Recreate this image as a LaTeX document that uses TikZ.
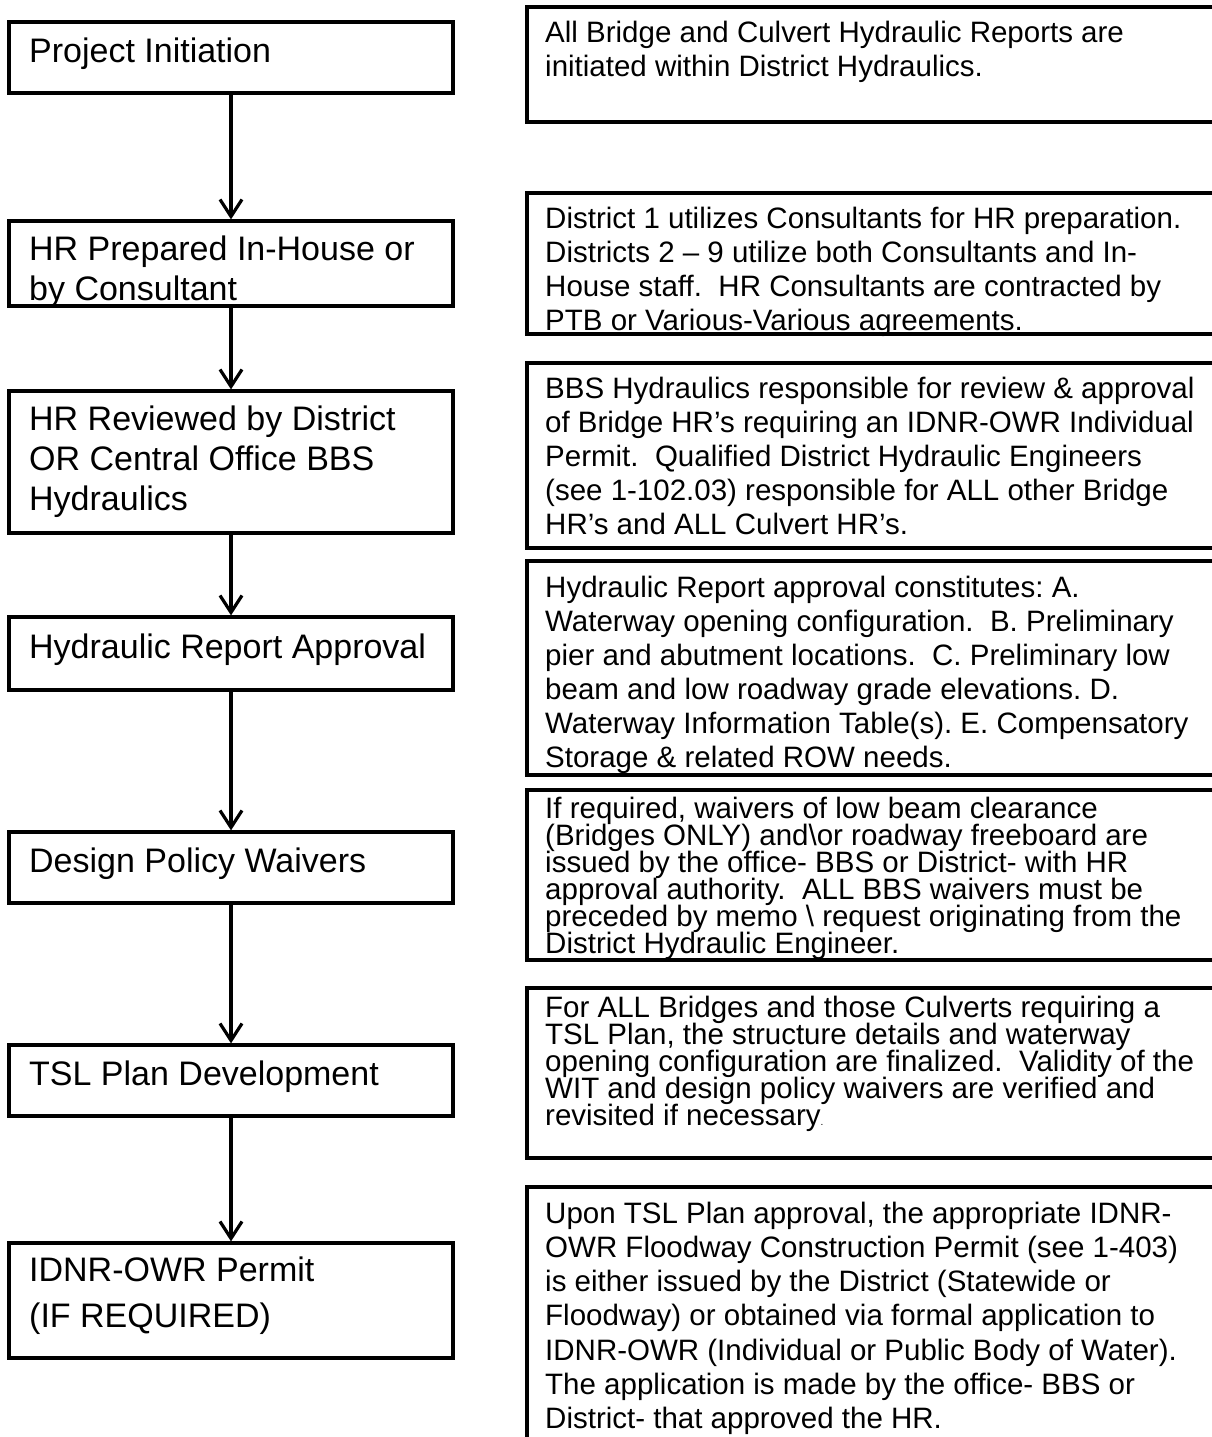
\documentclass[tikz,border=0pt]{standalone}
\usepackage{fontspec}
\setmainfont{Liberation Sans}
\usetikzlibrary{arrows.meta}
\frenchspacing
\tikzset{
  lbox/.style={draw, line width=3.2pt, minimum width=444pt, inner sep=0pt},
  rbox/.style={draw, line width=3.2pt, minimum width=703pt, inner sep=0pt},
  ltext/.style={anchor=base west, inner sep=0pt, font=\fontsize{34}{40}\selectfont},
  rtext/.style={anchor=base west, inner sep=0pt, font=\fontsize{29.5}{34}\selectfont},
  flow/.style={line width=3.2pt, -{Straight Barb[length=17pt,width=22pt]}}
}
\newcommand\txtstack[6]{% style, name, x, first baseline, step, lines
  \foreach \lineT [count=\k] in {#6} {\node[#1] (#2\k) at (#3,{#4+(\k-1)*(#5)}) {\lineT};}}
\begin{document}
\begin{tikzpicture}[x=1pt,y=-1pt]
\useasboundingbox (0,0) rectangle (1212,1437);
\fill[white] (0,0) rectangle (1212,1437);
\clip (0,0) rectangle (1212,1437);

% left column boxes
\node[lbox, minimum height=71pt]  (b1) at (231,57.5) {};
\node[lbox, minimum height=85pt]  (b2) at (231,263.5) {};
\node[lbox, minimum height=142pt] (b3) at (231,462) {};
\node[lbox, minimum height=73pt]  (b4) at (231,653.5) {};
\node[lbox, minimum height=71pt]  (b5) at (231,867.5) {};
\node[lbox, minimum height=71pt]  (b6) at (231,1080.5) {};
\node[lbox, minimum height=115pt] (b7) at (231,1300.5) {};

\txtstack{ltext}{t1-}{29}{63}{40}{Project Initiation}
\txtstack{ltext}{t2-}{29}{260}{40}{HR Prepared In-House or, by Consultant}
\txtstack{ltext}{t3-}{29}{430}{40}{HR Reviewed by District, OR Central Office BBS, Hydraulics}
\txtstack{ltext}{t4-}{29}{658}{40}{Hydraulic Report Approval}
\txtstack{ltext}{t5-}{29}{872}{40}{Design Policy Waivers}
\txtstack{ltext}{t6-}{29}{1085}{40}{TSL Plan Development}
\txtstack{ltext}{t7-}{29}{1281}{46}{IDNR-OWR Permit, (IF REQUIRED)}

% connectors
\draw[flow] (b1.south) -- (b2.north);
\draw[flow] (b2.south) -- (b3.north);
\draw[flow] (b3.south) -- (b4.north);
\draw[flow] (b4.south) -- (b5.north);
\draw[flow] (b5.south) -- (b6.north);
\draw[flow] (b6.south) -- (b7.north);

% right column boxes
\node[rbox, minimum height=115pt] (r1) at (878.5,64.5) {};
\node[rbox, minimum height=141pt] (r2) at (878.5,263.5) {};
\node[rbox, minimum height=185pt] (r3) at (878.5,455.5) {};
\node[rbox, minimum height=214pt] (r4) at (878.5,668) {};
\node[rbox, minimum height=170pt] (r5) at (878.5,875) {};
\node[rbox, minimum height=170pt] (r6) at (878.5,1073) {};
\node[rbox, minimum height=293pt] (r7) at (878.5,1333.5) {};

\txtstack{rtext}{n1-}{545}{43}{34}{All Bridge and Culvert Hydraulic Reports are, initiated within District Hydraulics.}
\txtstack{rtext}{n2-}{545}{228}{34}{District 1 utilizes Consultants for HR preparation., Districts 2 – 9 utilize both Consultants and In-, House staff.~~HR Consultants are contracted by, PTB or Various-Various agreements.}
\txtstack{rtext}{n3-}{545}{398}{34}{BBS Hydraulics responsible for review \& approval, of Bridge HR’s requiring an IDNR-OWR Individual, Permit.~~Qualified District Hydraulic Engineers, (see 1-102.03) responsible for ALL other Bridge, HR’s and ALL Culvert HR’s.}
\txtstack{rtext}{n4-}{545}{597}{34}{Hydraulic Report approval constitutes: A., Waterway opening configuration.~~B. Preliminary, pier and abutment locations.~~C. Preliminary low, beam and low roadway grade elevations. D., Waterway Information Table(s). E. Compensatory, Storage \& related ROW needs.}
\txtstack{rtext}{n5-}{545}{818}{27}{{If required, waivers of low beam clearance}, (Bridges ONLY) and\textbackslash or roadway freeboard are, issued by the office- BBS or District- with HR, approval authority.~~ALL BBS waivers must be, preceded by memo \textbackslash\ request originating from the, District Hydraulic Engineer.}
\txtstack{rtext}{n6-}{545}{1017}{27}{For ALL Bridges and those Culverts requiring a, {TSL Plan, the structure details and waterway}, opening configuration are finalized.~~Validity of the, WIT and design policy waivers are verified and, revisited if necessary{\fontsize{10}{10}\selectfont .}}
\txtstack{rtext}{n7-}{545}{1223}{34.3}{{Upon TSL Plan approval, the appropriate IDNR-}, OWR Floodway Construction Permit (see 1-403), is either issued by the District (Statewide or, Floodway) or obtained via formal application to, IDNR-OWR (Individual or Public Body of Water)., The application is made by the office- BBS or, District- that approved the HR.}
\end{tikzpicture}
\end{document}
